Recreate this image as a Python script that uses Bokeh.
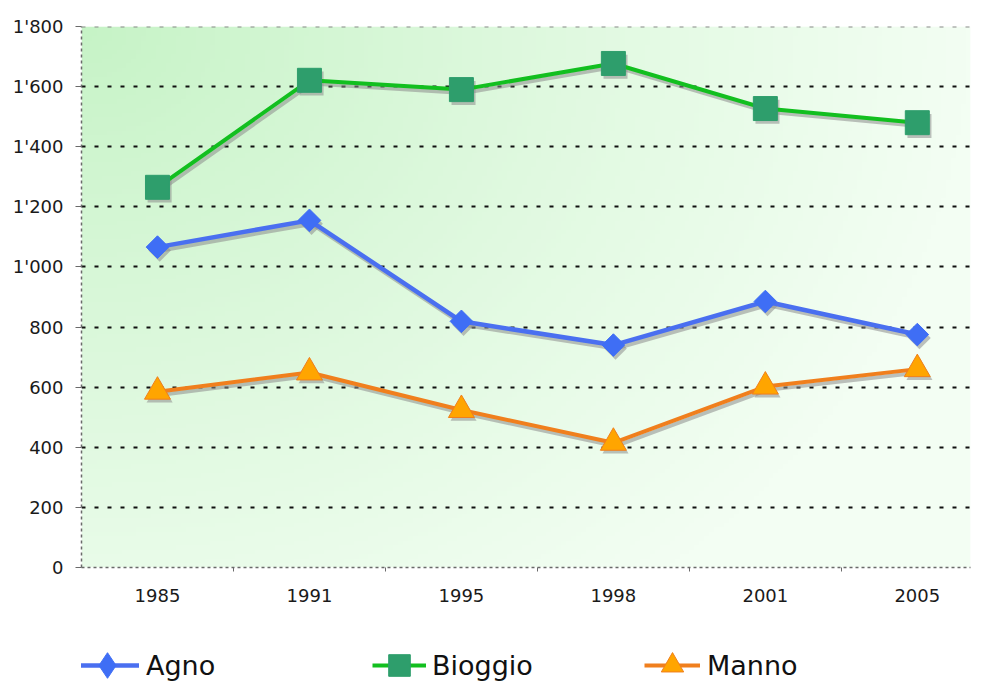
import numpy as np
from bokeh.plotting import figure
from bokeh.layouts import column
from bokeh.models import (ColumnDataSource, FixedTicker, Legend, LegendItem,
                          Span, Range1d)
from bokeh.transform import dodge
from bokeh.embed import file_html
from bokeh.resources import INLINE

# ---------------- data ----------------
years = ["1985", "1991", "1995", "1998", "2001", "2005"]
agno = [1066, 1155, 819, 740, 885, 775]
bioggio = [1265, 1621, 1590, 1677, 1527, 1480]
manno = [585, 649, 524, 415, 602, 660]
series_keys = ["agno", "bioggio", "manno"]
series_names = ["Agno", "Bioggio", "Manno"]
y_ticks = [0, 200, 400, 600, 800, 1000, 1200, 1400, 1600, 1800]
y_tick_labels = ["0", "200", "400", "600", "800", "1'000", "1'200",
                 "1'400", "1'600", "1'800"]

xs = list(range(len(years)))
src = ColumnDataSource(dict(x=xs, agno=agno, bioggio=bioggio, manno=manno))

x_start, x_end = -0.5, len(years) - 0.65
y_start, y_end = y_ticks[0], y_ticks[-1]

FONT = "DejaVu Sans"

p = figure(frame_width=889, frame_height=541,
           x_range=Range1d(x_start, x_end), y_range=Range1d(y_start, y_end),
           output_backend="svg", toolbar_location=None,
           min_border_left=81, min_border_top=26, min_border_right=16,
           min_border_bottom=45)
p.outline_line_color = None
p.background_fill_color = "white"
p.border_fill_color = "white"

# ---------------- gradient background ----------------
H, W = 120, 180
u = np.linspace(0, 1, W)[None, :]
v = np.linspace(0, 1, H)[:, None]          # row 0 = bottom
t = np.clip(np.sqrt(u ** 2 + (0.75 * (1 - v)) ** 2) / 1.0, 0, 1) ** 0.9
c0 = np.array([198, 243, 198], dtype=float)
c1 = np.array([243, 254, 243], dtype=float)
img = np.empty((H, W), dtype=np.uint32)
view = img.view(dtype=np.uint8).reshape((H, W, 4))
for k in range(3):
    view[:, :, k] = (c0[k] + (c1[k] - c0[k]) * t).astype(np.uint8)
view[:, :, 3] = 255
p.image_rgba(image=[img], x=x_start, y=y_start, dw=x_end - x_start,
             dh=y_end - y_start, level="image")

# ---------------- axes & grid ----------------
p.xgrid.visible = False
p.ygrid.ticker = FixedTicker(ticks=y_ticks[1:-1])
p.ygrid.grid_line_color = "#111111"
p.ygrid.grid_line_width = 2.2
p.ygrid.grid_line_dash = "4 9"

top_line = Span(location=y_end, dimension="width", line_color="#8a8a8a",
                line_width=2, line_dash="4 9")
p.add_layout(top_line)

p.yaxis.ticker = FixedTicker(ticks=y_ticks)
p.yaxis.major_label_overrides = dict(zip(y_ticks, y_tick_labels))
p.yaxis.major_tick_out = 6
p.yaxis.major_tick_in = 0
p.yaxis.minor_tick_out = 0
p.yaxis.minor_tick_in = 0
p.yaxis.major_label_standoff = 12

p.xaxis.ticker = FixedTicker(ticks=xs,
                             minor_ticks=[i + 0.5 for i in xs[:-1]])
p.xaxis.major_label_overrides = dict(zip(xs, years))
p.xaxis.major_tick_out = 0
p.xaxis.major_tick_in = 0
p.xaxis.minor_tick_out = 4
p.xaxis.minor_tick_in = 0
p.xaxis.major_label_standoff = 17

for ax in (p.xaxis[0], p.yaxis[0]):
    ax.axis_line_color = "#6a6a6a"
    ax.axis_line_width = 1.5
    ax.axis_line_dash = "3 3"
    ax.major_tick_line_color = "#6a6a6a"
    ax.minor_tick_line_color = "#6a6a6a"
    ax.major_label_text_font = FONT
    ax.major_label_text_font_size = "18px"
    ax.major_label_text_color = "#1a1a1a"

# ---------------- series ----------------
styles = {
    "agno": dict(line="#4a6ff0", fill="#3f6ef5", edge="#3f6ef5",
                 marker="square", size=16, angle=np.pi / 4, lw=4.5,
                 legend_marker="diamond"),
    "bioggio": dict(line="#12bf1f", fill="#2e9e6c", edge="#2e9e6c",
                    marker="square", size=24, angle=0.0, lw=4,
                    legend_marker="square"),
    "manno": dict(line="#f07f1d", fill="#ffa500", edge="#f07f1d",
                  marker="triangle", size=26, angle=0.0, lw=4,
                  legend_marker="triangle"),
}

for key in series_keys:
    st = styles[key]
    sx = dodge("x", 0.014)
    sy = dodge(key, -11)
    p.line(x=sx, y=sy, source=src, line_color="#8c8c8c", line_alpha=0.55,
           line_width=st["lw"])
    p.scatter(x=sx, y=sy, source=src, marker=st["marker"], size=st["size"],
              angle=st["angle"], fill_color="#8c8c8c", fill_alpha=0.55,
              line_color=None)
    p.line(x="x", y=key, source=src, line_color=st["line"],
           line_width=st["lw"])
    p.scatter(x="x", y=key, source=src, marker=st["marker"],
              size=st["size"], angle=st["angle"],
              fill_color=st["fill"], line_color=st["edge"], line_width=1)

# ---------------- legend strip (separate figure below) ----------------
lg = figure(width=986, height=70, x_range=Range1d(x_start, x_end),
            y_range=Range1d(y_start, y_end), output_backend="svg",
            toolbar_location=None, min_border=0, outline_line_color=None)
lg.axis.visible = False
lg.grid.visible = False
lg.background_fill_color = "white"
lg.border_fill_color = "white"

# (x offset from frame left, glyph width, glyph height, label standoff)
legend_place = {"agno": (-6, 64, 66, 7), "bioggio": (291, 54, 60, 6),
                "manno": (563, 56, 60, 7)}
for key, name in zip(series_keys, series_names):
    st = styles[key]
    ln = lg.line(x="x", y=key, source=src, line_color=st["line"],
                 line_width=st["lw"], visible=False)
    mk = lg.scatter(x="x", y=key, source=src, marker=st["legend_marker"],
                    size=st["size"], fill_color=st["fill"],
                    line_color=st["edge"], line_width=1, visible=False)
    lx, gw, gh, so = legend_place[key]
    leg = Legend(items=[LegendItem(label=name, renderers=[ln, mk])],
                 location=(lx, 17 - gh // 2), orientation="horizontal",
                 glyph_width=gw, glyph_height=gh, label_standoff=so,
                 padding=0, margin=0, spacing=0,
                 background_fill_alpha=0, border_line_color=None,
                 label_text_font=FONT, label_text_font_size="27px",
                 label_text_color="#111111")
    lg.add_layout(leg)

layout = column(p, lg, spacing=0)
open("out.html", "w").write(file_html(layout, INLINE))
